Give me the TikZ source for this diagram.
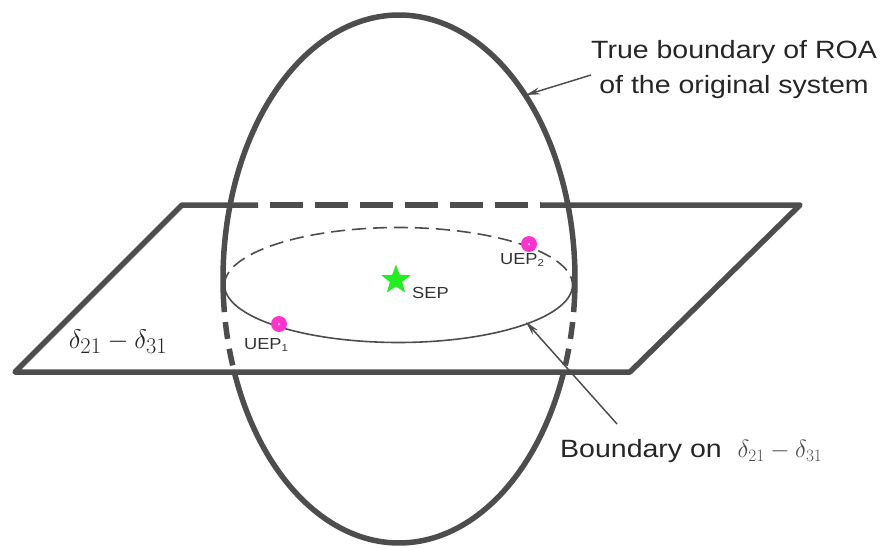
\documentclass[tikz,border=0pt]{standalone}
\usepackage{fontspec}
\setmainfont{Liberation Sans}
\newfontfamily\labfont[FakeStretch=1.14]{Liberation Sans}
\usetikzlibrary{shapes.geometric,arrows.meta}
\definecolor{ln}{HTML}{4D4D4D}
\definecolor{mag}{HTML}{FF33CC}
\definecolor{grn}{HTML}{22EE22}
\begin{document}
\begin{tikzpicture}[x=1pt,y=-1pt,
 thickline/.style={draw=ln,line width=5.5pt,line join=round},
 thinline/.style={draw=ln,line width=1.6pt},
 ptr/.style={draw=ln,line width=1.5pt,-{Stealth[length=14pt,width=7pt]}},
 uep/.style={circle,fill=mag,minimum size=16pt,inner sep=0pt},
 bigtext/.style={font=\labfont\fontsize{25}{35}\selectfont,text=black!85,inner sep=0pt},
 smalltext/.style={font=\labfont\fontsize{16}{18}\selectfont,text=black!80,inner sep=0pt}]
\path[use as bounding box] (0,0) rectangle (888,548);
% plane
\draw[thickline] (258,205) -- (182,205) -- (15,372) -- (630,372) -- (800,205) -- (541,205);
\draw[thickline,dash pattern=on 33pt off 12pt,dash phase=33pt] (258,205) -- (541,205);
% big ellipse
\draw[thickline] plot[smooth,domain=176.5:363.5,samples=120] ({399+176*cos(\x)},{279+264*sin(\x)});
\draw[thickline,dash pattern=on 17pt off 10pt] plot[smooth,domain=176.5:159.5,samples=30] ({399+176*cos(\x)},{279+264*sin(\x)});
\draw[thickline,dash pattern=on 17pt off 10pt] plot[smooth,domain=3.5:20.5,samples=30] ({399+176*cos(\x)},{279+264*sin(\x)});
\draw[thickline] plot[smooth,domain=20.5:159.5,samples=120] ({399+176*cos(\x)},{279+264*sin(\x)});
% horizontal ellipse
\draw[thinline,dash pattern=on 14pt off 7pt] plot[smooth,domain=180:360,samples=120] ({398.5+174*cos(\x)},{285+57.5*sin(\x)});
\draw[thinline] plot[smooth,domain=0:180,samples=120] ({398.5+174*cos(\x)},{285+57.5*sin(\x)});
% points
\node[star,star points=5,star point ratio=2.4,fill=grn,minimum size=31pt,inner sep=0pt] (sep) at (396,280) {};
\node[smalltext,anchor=west] (seplab) at (412,293) {SEP};
\node[uep] (u1) at (279,324) {};
\fill[white!70!mag] (u1.center) circle (1.3);
\node[smalltext] (u1lab) at (266,345) {UEP\raisebox{-0.35ex}{\fontsize{10}{10}\selectfont 1}};
\node[uep] (u2) at (529,244) {};
\fill[white!70!mag] (u2.center) circle (1.3);
\node[smalltext] (u2lab) at (522,260) {UEP\raisebox{-0.35ex}{\fontsize{10}{10}\selectfont 2}};
% plane label
\node[font=\fontsize{24.88}{28}\selectfont,text=black!85,inner sep=0pt] (plab) at (118,342) {\scalebox{1.08}{$\delta_{21}-\delta_{31}$}};
% callouts
\node[bigtext,align=center] (roa) at (734,70) {True boundary of ROA\\of the original system};
\coordinate (a1s) at (591,75);
\coordinate (a1e) at (526,95);
\draw[ptr] (a1s) -- (a1e);
\node[bigtext,anchor=west] (bnd) at (560,451) {Boundary on\ \ {\color{black!70}\fontsize{24}{26}\selectfont$\delta_{21}-\delta_{31}$}};
\coordinate (a2s) at (617,424);
\coordinate (a2e) at (526,322);
\draw[ptr] (a2s) -- (a2e);
\end{tikzpicture}
\end{document}
